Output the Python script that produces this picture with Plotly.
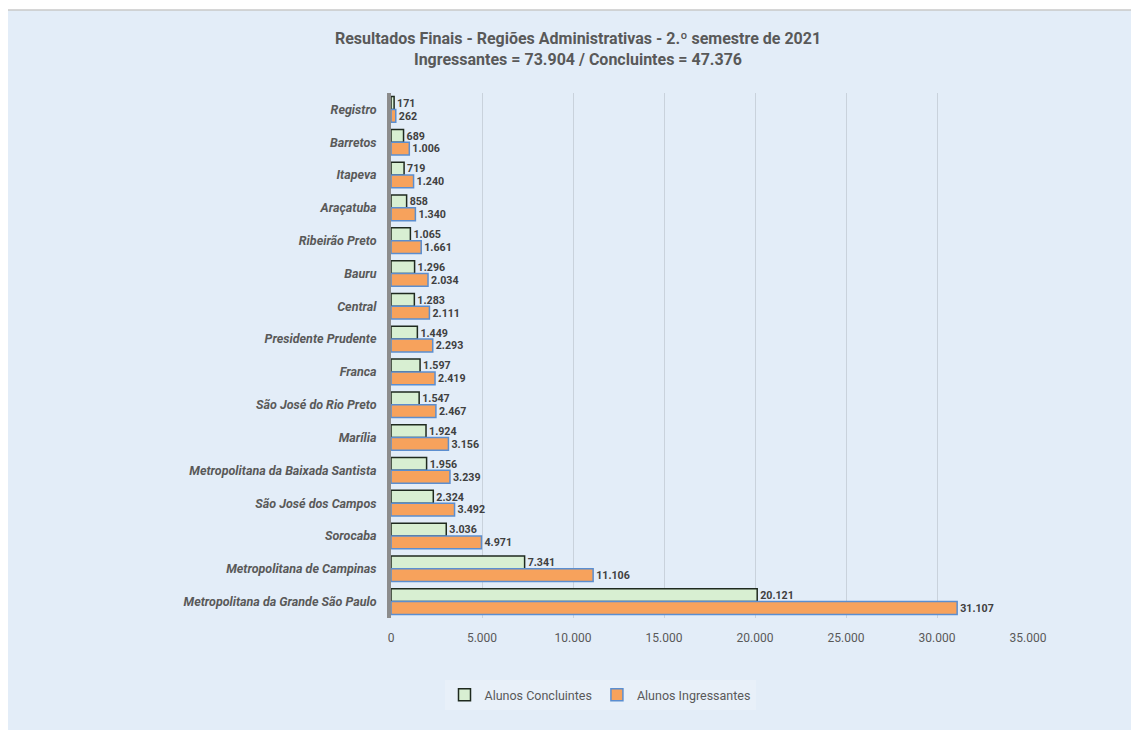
import plotly.graph_objects as go

categories = ["Registro", "Barretos", "Itapeva", "Araçatuba", "Ribeirão Preto", "Bauru", "Central",
              "Presidente Prudente", "Franca", "São José do Rio Preto", "Marília",
              "Metropolitana da Baixada Santista", "São José dos Campos", "Sorocaba",
              "Metropolitana de Campinas", "Metropolitana da Grande São Paulo"]
concluintes = [171, 689, 719, 858, 1065, 1296, 1283, 1449, 1597, 1547, 1924, 1956, 2324, 3036, 7341, 20121]
ingressantes = [262, 1006, 1240, 1340, 1661, 2034, 2111, 2293, 2419, 2467, 3156, 3239, 3492, 4971, 11106, 31107]
x_ticks = [0, 5000, 10000, 15000, 20000, 25000, 30000, 35000]

FONT = "Roboto"
GRAY = "#595959"
OFF = 8  # page body margin

def fmt(v):
    return f"{v:,}".replace(",", ".")

fig = go.Figure()
fig.add_trace(go.Bar(
    y=categories, x=concluintes, orientation="h", name="Alunos Concluintes",
    marker=dict(color="#d8efd2", line=dict(color="#1f2a1f", width=1.5)),
    text=[fmt(v) for v in concluintes], textposition="outside",
    textfont=dict(family=FONT, size=12.5, color="#404040", weight="bold"), cliponaxis=False,
))
fig.add_trace(go.Bar(
    y=categories, x=ingressantes, orientation="h", name="Alunos Ingressantes",
    marker=dict(color="#f7a25c", line=dict(color="#5b8ed0", width=1.5)),
    text=[fmt(v) for v in ingressantes], textposition="outside",
    textfont=dict(family=FONT, size=12.5, color="#404040", weight="bold"), cliponaxis=False,
))

FW, FH = 1139 - OFF, 730 - OFF
px0, px1, py0, py1 = 391 - OFF, 1028 - OFF, 93 - OFF, 618 - OFF
W, H = px1 - px0, py1 - py0
fig.add_shape(type="rect", xref="paper", yref="paper",
              x0=(0 - px0) / W, x1=(FW - px0) / W,
              y0=(py1 - FH) / H, y1=(py1 - 2) / H,
              fillcolor="#e3edf8", line=dict(width=0), layer="below")
fig.add_shape(type="line", xref="paper", yref="paper",
              x0=(0 - px0) / W, x1=(FW - px0) / W,
              y0=(py1 - 2) / H, y1=(py1 - 2) / H,
              line=dict(color="#c8c8c8", width=1.5), layer="below")

fig.update_layout(
    width=FW, height=FH,
    margin=dict(l=px0, r=FW - px1, t=py0, b=FH - py1),
    paper_bgcolor="white", plot_bgcolor="rgba(0,0,0,0)",
    separators=",.",
    barmode="group", bargap=0.22, bargroupgap=0.0,
    title=dict(text="Resultados Finais - Regiões Administrativas - 2.º semestre de 2021<br>Ingressantes = 73.904 / Concluintes = 47.376",
               x=(578 - OFF) / FW, xref="container", xanchor="center",
               y=1 - (44 - OFF) / FH, yref="container", yanchor="top",
               font=dict(family=FONT, size=16, color=GRAY, weight="bold")),
    showlegend=True,
    legend=dict(orientation="h", x=(600 - OFF - px0) / W, xanchor="center",
                y=(py1 - (695 - OFF)) / H, yanchor="middle",
                font=dict(family=FONT, size=12.5, color=GRAY),
                itemwidth=30,
                bgcolor="rgba(255,255,255,0.18)", traceorder="normal"),
    font=dict(family=FONT, color=GRAY),
)
fig.update_xaxes(range=[0, 35000], tickvals=x_ticks, tickformat=",d",
                 showgrid=True, gridcolor="#c9d2dc", gridwidth=1,
                 zeroline=False, showline=False, ticklabelstandoff=11,
                 tickfont=dict(family=FONT, size=12, color=GRAY), ticks="")
fig.update_yaxes(autorange="reversed", showgrid=False, showline=True,
                 linecolor="#8c8c8c", linewidth=4,
                 tickfont=dict(family=FONT, size=12.5, color=GRAY, weight="bold", style="italic"),
                 ticks="", ticklabelstandoff=8)

fig.write_html("out.html")
